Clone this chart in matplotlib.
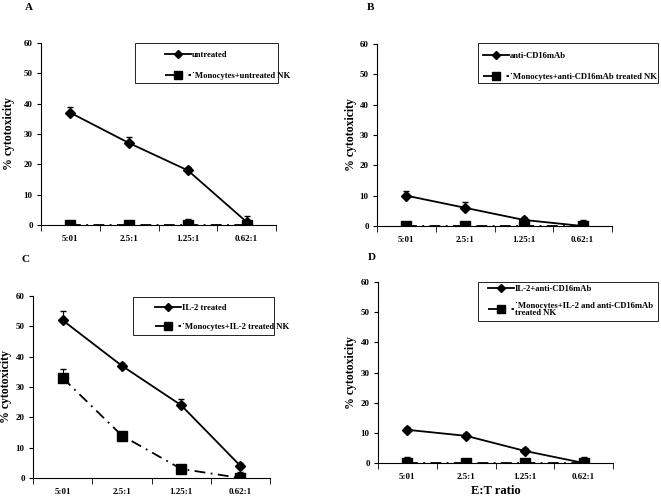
import matplotlib.pyplot as plt
from matplotlib.lines import Line2D
from matplotlib.patches import Rectangle
import numpy as np

ratios = ["5:01", "2.5:1", "1.25:1", "0.62:1"]

# panel A
a_treated = [37, 27, 18, 1]
a_treated_err = [2, 2, 1, 2]
a_mono = [0, 0, 0, 0]
a_mono_err = [0, 0, 2, 0]

# panel B
b_treated = [10, 6, 2, 0]
b_treated_err = [1.5, 2, 1, 2]
b_mono = [0, 0, 0, 0]
b_mono_err = [0, 0, 0, 0]

# panel C
c_treated = [52, 37, 24, 4]
c_treated_err = [3, 1, 2, 1]
c_mono = [33, 14, 3, 0]
c_mono_err = [3, 1, 1, 2]

# panel D
d_treated = [11, 9, 4, 0]
d_treated_err = [1, 1, 1, 2]
d_mono = [0, 0, 0, 0]
d_mono_err = [2, 0, 0, 0]

plt.rcParams["font.family"] = ["Liberation Serif", "DejaVu Serif"]
plt.rcParams["font.weight"] = "bold"

W, H = 661, 499
fig = plt.figure(figsize=(W / 100, H / 100), dpi=100)


def fx(px):
    return px / W


def fy(py):
    return 1 - py / H


dashdot = (0, (6, 3, 1, 3))

# pixel layout: axes (left, top, right, bottom),
# legend frame (left, top, right, bottom), legend handle start x, first entry y,
# panel letter (x, y), ylabel offset, legend row spacing
panels = [
    dict(letter="A", ax=(41, 43, 276, 225), tr=a_treated, tr_err=a_treated_err,
         mo=a_mono, mo_err=a_mono_err, lab1="untreated", lab2="\u02d9Monocytes+untreated NK",
         frame=(135, 43, 278, 83), hx=165, hy=54, pos=(25, 7), ylx=-0.11, ls=1.55),
    dict(letter="B", ax=(377, 44, 612, 226), tr=b_treated, tr_err=b_treated_err,
         mo=b_mono, mo_err=b_mono_err, lab1="anti-CD16mAb",
         lab2="\u02d9Monocytes+anti-CD16mAb treated NK",
         frame=(478, 43, 658, 83), hx=483, hy=55, pos=(367, 7), ylx=-0.085, ls=1.55),
    dict(letter="C", ax=(33, 296, 270, 478), tr=c_treated, tr_err=c_treated_err,
         mo=c_mono, mo_err=c_mono_err, lab1="IL-2 treated", lab2="\u02d9Monocytes+IL-2 treated NK",
         frame=(133, 297, 274, 335), hx=155, hy=307, pos=(22, 259), ylx=-0.089, ls=1.25),
    dict(letter="D", ax=(378, 282, 613, 463), tr=d_treated, tr_err=d_treated_err,
         mo=d_mono, mo_err=d_mono_err, lab1="IL-2+anti-CD16mAb",
         lab2="\u02d9Monocytes+IL-2 and anti-CD16mAb\ntreated NK",
         frame=(478, 282, 658, 321), hx=488, hy=288, pos=(368, 257), ylx=-0.089, ls=1.0),
]

x = np.arange(len(ratios))

for p in panels:
    l, t, r, b = p["ax"]
    ax = fig.add_axes([fx(l), fy(b), fx(r - l), (b - t) / H])
    ax.errorbar(x, p["tr"], yerr=[np.zeros(len(x)), p["tr_err"]], color="black", lw=1.3,
                marker="D", markersize=5, capsize=2, elinewidth=0.8, zorder=3)
    ax.errorbar(x, p["mo"], yerr=[np.zeros(len(x)), p["mo_err"]], color="black", lw=1.3,
                linestyle=dashdot, marker="s", markersize=7, capsize=2,
                elinewidth=0.8, zorder=3)
    ax.set_xlim(-0.5, 3.5)
    ax.set_ylim(0, 60)
    ax.set_yticks(range(0, 61, 10))
    ax.set_xticks(x)
    ax.set_xticklabels(ratios)
    ax.set_xticks(np.arange(-0.5, 4.0, 1.0), minor=True)
    ax.tick_params(axis="x", which="major", length=0, pad=7, labelsize=6.5)
    ax.tick_params(axis="x", which="minor", length=4, direction="out")
    ax.tick_params(axis="y", length=3, direction="out", labelsize=6.5, pad=3)
    for lbl in ax.get_xticklabels() + ax.get_yticklabels():
        lbl.set_fontweight("bold")
    ax.spines["top"].set_visible(False)
    ax.spines["right"].set_visible(False)
    ax.set_ylabel("% cytotoxicity", fontsize=8.5, fontweight="bold")
    ax.yaxis.set_label_coords(p["ylx"], 0.5)

    # legend frame drawn by hand, entries placed inside it
    fl, ft, fr, fb = p["frame"]
    fig.add_artist(Rectangle((fx(fl), fy(fb)), fx(fr - fl), (fb - ft) / H,
                             transform=fig.transFigure, fill=False,
                             edgecolor="black", linewidth=0.6))
    handles = [
        Line2D([], [], color="black", lw=1.3, marker="D", markersize=4),
        Line2D([], [], color="black", lw=1.3, linestyle=dashdot, marker="s", markersize=6),
    ]
    leg = ax.legend(handles, [p["lab1"], p["lab2"]], loc="upper left",
                    bbox_to_anchor=(fx(p["hx"]), fy(p["hy"] - 3)), bbox_transform=fig.transFigure,
                    frameon=False, handlelength=3.0, handletextpad=0.1,
                    borderaxespad=0.0, borderpad=0.0, labelspacing=p["ls"],
                    prop={"weight": "bold", "size": 6.2, "family": "Liberation Serif"})
    for txt in leg.get_texts():
        txt.set_linespacing(0.95)

    fig.text(fx(p["pos"][0]), fy(p["pos"][1]), p["letter"], fontsize=8,
             fontweight="bold", va="center", ha="left")
    if p["letter"] == "D":
        ax.set_xlabel("E:T ratio", fontsize=9, fontweight="bold", labelpad=3)

fig.savefig("out.png", dpi=100)
